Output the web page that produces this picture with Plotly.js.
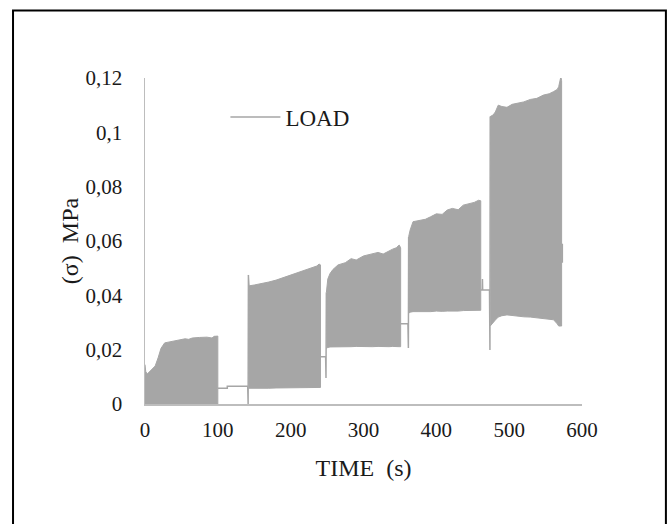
<!DOCTYPE html>
<html>
<head>
<meta charset="utf-8">
<script src="https://cdn.plot.ly/plotly-3.0.1.min.js"></script>
<style>html,body{margin:0;padding:0;background:#fff;}#chart{width:670px;height:524px;}</style>
</head>
<body>
<div id="chart"></div>
<script>
// ---- Data (time in s, stress in MPa) ----
// Oscillation envelopes for each loading block
const seg1Time = [0, 1, 3, 8, 14, 18, 22, 27, 35, 45, 55, 60, 65, 75, 85, 92, 95, 100];
const seg1High = [0.0145, 0.012, 0.011, 0.0125, 0.014, 0.017, 0.0205, 0.0225, 0.023, 0.0235, 0.024, 0.0238, 0.0243, 0.0245, 0.0246, 0.0243, 0.0249, 0.025];
const seg1Low  = [0, 0, 0, 0, 0, 0, 0, 0, 0, 0, 0, 0, 0, 0, 0, 0, 0, 0];

const seg2Time = [142, 143, 150, 160, 170, 180, 190, 200, 210, 220, 230, 236, 239, 241];
const seg2High = [0.0475, 0.0435, 0.0438, 0.0443, 0.0449, 0.0456, 0.0465, 0.0474, 0.0483, 0.0492, 0.0502, 0.0508, 0.0515, 0.0512];
const seg2Low  = [0.0055, 0.0058, 0.0058, 0.0059, 0.0058, 0.0059, 0.006, 0.0059, 0.006, 0.006, 0.0061, 0.006, 0.0061, 0.0061];

const seg3Time = [249, 251, 254, 258, 265, 275, 283, 290, 300, 305, 312, 320, 327, 335, 340, 345, 349, 351];
const seg3High = [0.041, 0.046, 0.048, 0.0495, 0.0512, 0.052, 0.0535, 0.053, 0.0545, 0.0548, 0.0555, 0.0558, 0.0552, 0.0565, 0.057, 0.0575, 0.0585, 0.0575];
const seg3Low  = [0.0205, 0.0208, 0.021, 0.021, 0.021, 0.0211, 0.0211, 0.0212, 0.0211, 0.0212, 0.0211, 0.0212, 0.0212, 0.0211, 0.0212, 0.0212, 0.0211, 0.0211];

const seg4Time = [362, 364, 368, 375, 385, 392, 400, 408, 415, 422, 430, 437, 445, 452, 458, 461];
const seg4High = [0.0616, 0.064, 0.0671, 0.0675, 0.068, 0.0689, 0.07, 0.0698, 0.0714, 0.072, 0.0715, 0.0732, 0.0738, 0.0742, 0.075, 0.0748];
const seg4Low  = [0.0334, 0.0338, 0.034, 0.034, 0.0341, 0.034, 0.0342, 0.0341, 0.0342, 0.0343, 0.0342, 0.0344, 0.0343, 0.0345, 0.0345, 0.0345];

const seg5Time = [474, 478, 481, 485, 490, 497, 504, 510, 520, 529, 538, 547, 555, 561, 566, 568, 571, 572];
const seg5High = [0.1058, 0.1064, 0.1075, 0.110, 0.1095, 0.1092, 0.1103, 0.1107, 0.1112, 0.1121, 0.1125, 0.1137, 0.1142, 0.115, 0.1158, 0.1168, 0.1205, 0.119];
const seg5Low  = [0.0287, 0.0298, 0.0309, 0.032, 0.0325, 0.0328, 0.0327, 0.0324, 0.0321, 0.032, 0.0318, 0.0315, 0.0312, 0.031, 0.0295, 0.0287, 0.0287, 0.0287];

// Rest/transition path of the load signal between blocks (null breaks the line)
const restTime  = [100, 113, 113, 141, 141.6, 142, null, 241, 248, 248.5, 249, null, 351, 361, 361.6, 362, null, 461, 463, 463.3, 463.6, 473, 473.6, 474, null, 573, 573];
const restValue = [0.0058, 0.0058, 0.0065, 0.0065, 0, 0.0475, null, 0.0174, 0.0174, 0.0096, 0.041, null, 0.0295, 0.0295, 0.0206, 0.0616, null, 0.042, 0.042, 0.046, 0.042, 0.042, 0.0199, 0.1058, null, 0.052, 0.059];

// Axis ticks
const yTickVals = [0, 0.02, 0.04, 0.06, 0.08, 0.1, 0.12];
const yTickText = ['0', '0,02', '0,04', '0,06', '0,08', '0,1', '0,12'];
const xTickVals = [0, 100, 200, 300, 400, 500, 600];
const xTickText = ['0', '100', '200', '300', '400', '500', '600'];

// ---- Build traces ----
const GREY = '#a6a6a6';
const segments = [
  [seg1Time, seg1High, seg1Low],
  [seg2Time, seg2High, seg2Low],
  [seg3Time, seg3High, seg3Low],
  [seg4Time, seg4High, seg4Low],
  [seg5Time, seg5High, seg5Low]
];
const traces = segments.map(([t, hi, lo]) => ({
  type: 'scatter',
  mode: 'lines',
  x: t.concat(t.slice().reverse()),
  y: hi.concat(lo.slice().reverse()),
  fill: 'toself',
  fillcolor: GREY,
  line: {color: GREY, width: 1},
  showlegend: false,
  hoverinfo: 'skip'
}));
traces.push({
  type: 'scatter',
  mode: 'lines',
  name: 'LOAD',
  x: restTime,
  y: restValue,
  line: {color: GREY, width: 1.5},
  connectgaps: false
});

const FONT = 'Liberation Serif, Times New Roman, serif';
const NB = '\u00a0';
const layout = {
  width: 670,
  height: 524,
  margin: {l: 145, r: 88, t: 78, b: 120},
  paper_bgcolor: '#ffffff',
  plot_bgcolor: '#ffffff',
  font: {family: FONT, size: 21, color: '#1a1a1a'},
  separators: ', ',
  showlegend: true,
  legend: {
    x: 0.184, y: 0.88, xanchor: 'left', yanchor: 'middle',
    bgcolor: 'rgba(0,0,0,0)',
    font: {family: FONT, size: 23, color: '#1a1a1a'},
    itemwidth: 50
  },
  xaxis: {
    range: [0, 600],
    tickvals: xTickVals, ticktext: xTickText,
    tickfont: {family: FONT, size: 21, color: '#1a1a1a'},
    showline: true, linecolor: '#bdbdbd', linewidth: 1.5,
    showgrid: false, zeroline: false, ticks: '',
    ticklabelstandoff: 6,
    title: {text: 'TIME' + NB + NB + '(s)', font: {family: FONT, size: 24, color: '#1a1a1a'}, standoff: 18}
  },
  yaxis: {
    range: [0, 0.12],
    tickvals: yTickVals, ticktext: yTickText,
    tickfont: {family: FONT, size: 21, color: '#1a1a1a'},
    showline: true, linecolor: '#bdbdbd', linewidth: 1.5,
    showgrid: false, zeroline: false, ticks: '',
    ticklabelstandoff: 17,
    title: {text: '(σ)' + NB + NB + 'MPa', font: {family: FONT, size: 24, color: '#1a1a1a'}, standoff: 0}
  },
  shapes: [{
    type: 'rect', xref: 'paper', yref: 'paper',
    x0: -0.302, x1: 1.192, y0: -0.4, y1: 1.207,
    line: {color: '#000000', width: 2}, fillcolor: 'rgba(0,0,0,0)', layer: 'below'
  }]
};

Plotly.newPlot('chart', traces, layout, {displayModeBar: false, staticPlot: true});
</script>
</body>
</html>
